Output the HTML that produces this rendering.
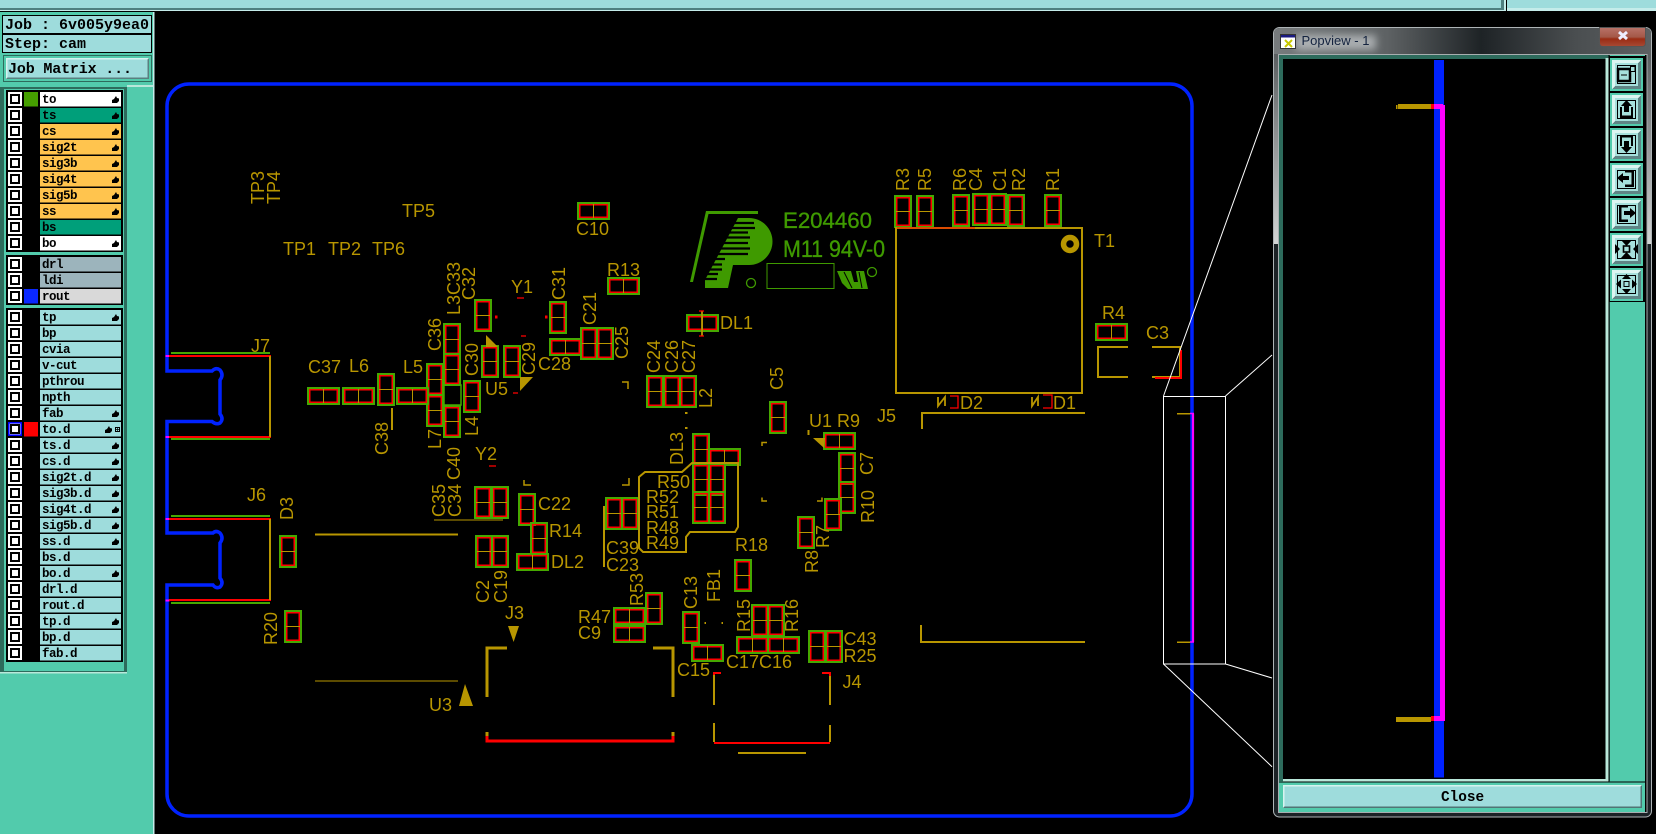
<!DOCTYPE html>
<html><head><meta charset="utf-8"><title>Popview</title>
<style>
html,body{margin:0;padding:0;background:#000;width:1656px;height:834px;overflow:hidden}
svg{display:block;position:absolute;left:0;top:0}
.s{font:18px "Liberation Sans",sans-serif;fill:#b89600}
.n{font:bold 12.5px "Liberation Mono",monospace;fill:#000;letter-spacing:-.5px}
.u{font:bold 15px "Liberation Mono",monospace;fill:#000}
.o{fill:none;stroke:#b89600;stroke-width:2;shape-rendering:crispEdges}
.t{fill:none;stroke:#b89600;stroke-width:1.3}
.r{fill:none;stroke:#f00;stroke-width:3;shape-rendering:crispEdges}
.w{fill:none;stroke:#fff;stroke-width:1}
.d{fill:#b89600}
.lg{fill:#3f9a00;stroke:#3f9a00;stroke-width:.35;font-family:"Liberation Sans",sans-serif}
</style></head><body>
<svg width="1656" height="834" viewBox="0 0 1656 834" xmlns="http://www.w3.org/2000/svg">
<defs>
<g id="v"><rect x="1" y="1" width="16" height="31" fill="none" stroke="#46a800" stroke-width="2" shape-rendering="crispEdges"/><rect x="2.750" y="2.750" width="12.500" height="27.500" fill="none" stroke="#f00" stroke-width="1.500"/><path d="M2 16.500H16" stroke="#b89600" stroke-width="1" shape-rendering="crispEdges"/></g>
<g id="h"><rect x="1" y="1" width="31" height="16" fill="none" stroke="#46a800" stroke-width="2" shape-rendering="crispEdges"/><rect x="2.750" y="2.750" width="27.500" height="12.500" fill="none" stroke="#f00" stroke-width="1.500"/><path d="M16.500 2V16" stroke="#b89600" stroke-width="1" shape-rendering="crispEdges"/></g>
<g id="c" shape-rendering="crispEdges"><rect width="14" height="14" fill="#fff"/><rect x="3" y="3" width="8" height="8" fill="#fff" stroke="#000" stroke-width="2"/></g>
<path id="f" d="M0 7V4L2 3 4 0 5 2 7 2.5V5L5 7Z" fill="#000"/>
<g id="b" shape-rendering="crispEdges"><rect width="33" height="33" fill="#52cbac"/><rect x="2" y="2" width="29" height="29" fill="#a6e0dc"/><path d="M2 2H31L28 5H5V28L2 31Z" fill="#dcf5f1"/><path d="M31 2V31H2L5 28H28V5Z" fill="#5f8585"/><rect x="7.500" y="7.500" width="18" height="18" fill="none" stroke="#000" stroke-width="1"/></g>
<linearGradient id="tb" x1="0" x2="1" y1="0" y2="0"><stop offset="0" stop-color="#777b7d"/><stop offset=".3" stop-color="#5e6264"/><stop offset=".55" stop-color="#1e2326"/><stop offset=".8" stop-color="#4a4e50"/><stop offset="1" stop-color="#5c6062"/></linearGradient>
<linearGradient id="sd" x1="0" x2="0" y1="0" y2="1"><stop offset="0" stop-color="#5a5e60"/><stop offset="1" stop-color="#d2d4d4"/></linearGradient>
<linearGradient id="cb" x1="0" x2="0" y1="0" y2="1"><stop offset="0" stop-color="#b87268"/><stop offset=".5" stop-color="#a45848"/><stop offset=".6" stop-color="#9a2c14"/><stop offset="1" stop-color="#a84a34"/></linearGradient>
<filter id="bl" x="-20%" y="-50%" width="140%" height="200%"><feGaussianBlur stdDeviation="4"/></filter>
</defs>
<rect width="1656" height="834" fill="#000"/>

<!-- top bars -->
<rect x="0" y="0" width="1501" height="8" fill="#9edcdc"/><rect x="0" y="8" width="1503" height="2" fill="#4f8080"/><rect x="0" y="10" width="1504" height="1" fill="#c5ecea"/>
<rect x="1501" y="0" width="3" height="10" fill="#4f8080"/><rect x="1504" y="0" width="2" height="11" fill="#c5ecea"/>
<rect x="1507" y="0" width="149" height="8" fill="#9edcdc"/><rect x="1507" y="8" width="149" height="3" fill="#c5ecea"/>

<!-- sidebar -->
<rect x="0" y="12" width="153" height="822" fill="#52cbac"/><rect x="153" y="12" width="1.5" height="822" fill="#c5ecea"/>
<rect x="2.5" y="15.5" width="149" height="18" fill="#9edcdc" stroke="#000"/>
<rect x="2.5" y="34.5" width="149" height="18" fill="#9edcdc" stroke="#000"/>
<text class="u" x="5" y="29">Job : 6v005y9ea0</text>
<text class="u" x="5" y="48">Step: cam</text>
<rect x="3" y="55" width="149" height="27" fill="#2d6b5c"/><rect x="4" y="56" width="147" height="25" fill="#52cbac"/>
<rect x="6" y="58" width="143" height="21" fill="#9edcdc"/><path d="M6 58H149L148 59.5H7.5V77.5L6 79Z" fill="#d6f3ef"/><path d="M149 58V79H6L7.5 77.5H147.5V59.5Z" fill="#5a7f7f"/>
<text class="u" x="8" y="73" textLength="124">Job Matrix ...</text>
<rect x="0" y="87" width="127" height="585" fill="#2d6b5c"/><rect x="4" y="89" width="120" height="582" fill="#52cbac"/><rect x="127" y="85" width="26" height="2" fill="#b9e8da"/>
<rect x="0" y="672" width="127" height="1.5" fill="#b9e8da"/>
<rect x="6" y="90" width="117" height="162" fill="#000"/><rect x="6" y="255" width="117" height="50" fill="#000"/><rect x="6" y="308" width="117" height="354" fill="#000"/>
<rect x="24" y="92" width="14" height="14.5" fill="#459f00"/><rect x="24" y="289" width="14" height="14.5" fill="#0a28ff"/><rect x="24" y="422" width="14" height="14.5" fill="#f00"/>

<g id="rows">
<use href="#c" x="8" y="92"/><rect x="40" y="92" width="81" height="14.5" fill="#fff"/><text class="n" x="42" y="103">to</text><use href="#f" x="112" y="96"/>
<use href="#c" x="8" y="108"/><rect x="40" y="108" width="81" height="14.5" fill="#009f7a"/><text class="n" x="42" y="119">ts</text><use href="#f" x="112" y="112"/>
<use href="#c" x="8" y="124"/><rect x="40" y="124" width="81" height="14.5" fill="#ffc44e"/><text class="n" x="42" y="135">cs</text><use href="#f" x="112" y="128"/>
<use href="#c" x="8" y="140"/><rect x="40" y="140" width="81" height="14.5" fill="#ffc44e"/><text class="n" x="42" y="151">sig2t</text><use href="#f" x="112" y="144"/>
<use href="#c" x="8" y="156"/><rect x="40" y="156" width="81" height="14.5" fill="#ffc44e"/><text class="n" x="42" y="167">sig3b</text><use href="#f" x="112" y="160"/>
<use href="#c" x="8" y="172"/><rect x="40" y="172" width="81" height="14.5" fill="#ffc44e"/><text class="n" x="42" y="183">sig4t</text><use href="#f" x="112" y="176"/>
<use href="#c" x="8" y="188"/><rect x="40" y="188" width="81" height="14.5" fill="#ffc44e"/><text class="n" x="42" y="199">sig5b</text><use href="#f" x="112" y="192"/>
<use href="#c" x="8" y="204"/><rect x="40" y="204" width="81" height="14.5" fill="#ffc44e"/><text class="n" x="42" y="215">ss</text><use href="#f" x="112" y="208"/>
<use href="#c" x="8" y="220"/><rect x="40" y="220" width="81" height="14.5" fill="#009f7a"/><text class="n" x="42" y="231">bs</text>
<use href="#c" x="8" y="236"/><rect x="40" y="236" width="81" height="14.5" fill="#fff"/><text class="n" x="42" y="247">bo</text><use href="#f" x="112" y="240"/>
<use href="#c" x="8" y="257"/><rect x="40" y="257" width="81" height="14.5" fill="#9cb4bc"/><text class="n" x="42" y="268">drl</text>
<use href="#c" x="8" y="273"/><rect x="40" y="273" width="81" height="14.5" fill="#9cb4bc"/><text class="n" x="42" y="284">ldi</text>
<use href="#c" x="8" y="289"/><rect x="40" y="289" width="81" height="14.5" fill="#d9d9d9"/><text class="n" x="42" y="300">rout</text>
<use href="#c" x="8" y="310"/><rect x="40" y="310" width="81" height="14.5" fill="#9edcdc"/><text class="n" x="42" y="321">tp</text><use href="#f" x="112" y="314"/>
<use href="#c" x="8" y="326"/><rect x="40" y="326" width="81" height="14.5" fill="#9edcdc"/><text class="n" x="42" y="337">bp</text>
<use href="#c" x="8" y="342"/><rect x="40" y="342" width="81" height="14.5" fill="#9edcdc"/><text class="n" x="42" y="353">cvia</text>
<use href="#c" x="8" y="358"/><rect x="40" y="358" width="81" height="14.5" fill="#9edcdc"/><text class="n" x="42" y="369">v-cut</text>
<use href="#c" x="8" y="374"/><rect x="40" y="374" width="81" height="14.5" fill="#9edcdc"/><text class="n" x="42" y="385">pthrou</text>
<use href="#c" x="8" y="390"/><rect x="40" y="390" width="81" height="14.5" fill="#9edcdc"/><text class="n" x="42" y="401">npth</text>
<use href="#c" x="8" y="406"/><rect x="40" y="406" width="81" height="14.5" fill="#9edcdc"/><text class="n" x="42" y="417">fab</text><use href="#f" x="112" y="410"/>
<use href="#c" x="8" y="422"/><rect x="8.8" y="422.8" width="12.4" height="12.4" fill="none" stroke="#00f" stroke-width="1.6"/><rect x="40" y="422" width="81" height="14.5" fill="#9edcdc"/><text class="n" x="42" y="433">to.d</text><use href="#f" x="105" y="426"/><rect x="115.5" y="427.5" width="4" height="4" fill="none" stroke="#000"/><path d="M117.5 427V432M115 429.5H120" stroke="#000" stroke-width=".7"/>
<use href="#c" x="8" y="438"/><rect x="40" y="438" width="81" height="14.5" fill="#9edcdc"/><text class="n" x="42" y="449">ts.d</text><use href="#f" x="112" y="442"/>
<use href="#c" x="8" y="454"/><rect x="40" y="454" width="81" height="14.5" fill="#9edcdc"/><text class="n" x="42" y="465">cs.d</text><use href="#f" x="112" y="458"/>
<use href="#c" x="8" y="470"/><rect x="40" y="470" width="81" height="14.5" fill="#9edcdc"/><text class="n" x="42" y="481">sig2t.d</text><use href="#f" x="112" y="474"/>
<use href="#c" x="8" y="486"/><rect x="40" y="486" width="81" height="14.5" fill="#9edcdc"/><text class="n" x="42" y="497">sig3b.d</text><use href="#f" x="112" y="490"/>
<use href="#c" x="8" y="502"/><rect x="40" y="502" width="81" height="14.5" fill="#9edcdc"/><text class="n" x="42" y="513">sig4t.d</text><use href="#f" x="112" y="506"/>
<use href="#c" x="8" y="518"/><rect x="40" y="518" width="81" height="14.5" fill="#9edcdc"/><text class="n" x="42" y="529">sig5b.d</text><use href="#f" x="112" y="522"/>
<use href="#c" x="8" y="534"/><rect x="40" y="534" width="81" height="14.5" fill="#9edcdc"/><text class="n" x="42" y="545">ss.d</text><use href="#f" x="112" y="538"/>
<use href="#c" x="8" y="550"/><rect x="40" y="550" width="81" height="14.5" fill="#9edcdc"/><text class="n" x="42" y="561">bs.d</text>
<use href="#c" x="8" y="566"/><rect x="40" y="566" width="81" height="14.5" fill="#9edcdc"/><text class="n" x="42" y="577">bo.d</text><use href="#f" x="112" y="570"/>
<use href="#c" x="8" y="582"/><rect x="40" y="582" width="81" height="14.5" fill="#9edcdc"/><text class="n" x="42" y="593">drl.d</text>
<use href="#c" x="8" y="598"/><rect x="40" y="598" width="81" height="14.5" fill="#9edcdc"/><text class="n" x="42" y="609">rout.d</text>
<use href="#c" x="8" y="614"/><rect x="40" y="614" width="81" height="14.5" fill="#9edcdc"/><text class="n" x="42" y="625">tp.d</text><use href="#f" x="112" y="618"/>
<use href="#c" x="8" y="630"/><rect x="40" y="630" width="81" height="14.5" fill="#9edcdc"/><text class="n" x="42" y="641">bp.d</text>
<use href="#c" x="8" y="646"/><rect x="40" y="646" width="81" height="14.5" fill="#9edcdc"/><text class="n" x="42" y="657">fab.d</text>
</g>

<!-- board outline -->
<path d="M189 84H1170A22 22 0 0 1 1192 106V794A22 22 0 0 1 1170 816H189A22 22 0 0 1 167 794V585H213Q216 589 220 587Q224 583 220 578V543Q224 538 220 533Q216 530 213 533H167V421.5H212Q216 425 220 423Q224 419 220 414V380Q224 375 220 370Q216 367 212 371H167V106A22 22 0 0 1 189 84Z" fill="none" stroke="#0022ff" stroke-width="3.5"/>
<rect x="165.5" y="355" width="4" height="2" fill="#f0f"/><rect x="165.5" y="436" width="4" height="2" fill="#f0f"/><rect x="165.5" y="518" width="4" height="2" fill="#f0f"/><rect x="165.5" y="599.5" width="4" height="2" fill="#f0f"/>

<!-- connectors J7 / J6 -->
<path d="M171 353H270M171 439H270M171 516H270M171 603H270" stroke="#46a800" stroke-width="2" fill="none" shape-rendering="crispEdges"/>
<path d="M169 356H271M169 437H271M169 519H271M169 600H271" stroke="#f00" stroke-width="2" fill="none" shape-rendering="crispEdges"/>
<path class="o" d="M270 356V437M270 519V600"/>

<!-- logo -->
<path d="M738 218H749A23.500 23.500 0 0 1 749 265H733L728 288H705V280Z" fill="#3f9a00"/>
<path d="M730 223H754M700 228H755M700 232.500H748M700 237.500H750M700 243H748M700 248.500H750M700 254H748M700 259H725M700 264.500H722M700 269.500H722M700 274H718M700 279H717" stroke="#000" stroke-width="2.200"/>
<path d="M706 211H758V214H708.500L693 282H690Z" fill="#3f9a00"/>
<rect x="767" y="263.500" width="67" height="25" fill="none" stroke="#3f9a00"/>
<circle cx="751" cy="283" r="4.500" fill="none" stroke="#3f9a00" stroke-width="1.300"/><circle cx="872" cy="272" r="4.500" fill="none" stroke="#3f9a00" stroke-width="1.300"/>
<path d="M837 271H851L854 282H858L856 271H864L868 289H848L842 283Z" fill="#3f9a00"/>
<path d="M844 272L852 288M859 272L862 288" stroke="#000" stroke-width="1"/>
<text class="lg" x="783" y="228" font-size="22" textLength="89" lengthAdjust="spacingAndGlyphs">E204460</text>
<text class="lg" x="783" y="257" font-size="24" textLength="102" lengthAdjust="spacingAndGlyphs">M11 94V-0</text>

<!-- components -->
<use href="#h" x="577" y="202"/><use href="#h" x="607" y="277"/><use href="#v" x="474" y="299"/><use href="#v" x="549" y="301"/><use href="#h" x="549" y="338"/>
<use href="#v" x="580" y="327"/><use href="#v" x="596" y="327"/><use href="#v" x="481" y="345"/><use href="#v" x="503" y="345"/>
<use href="#v" x="443" y="323"/><use href="#v" x="443" y="353"/><use href="#v" x="443" y="405"/><use href="#v" x="463" y="380"/>
<rect x="444" y="385" width="17" height="20" fill="none" stroke="#46a800" stroke-width="1.500"/>
<use href="#v" x="426" y="363"/><use href="#v" x="426" y="394"/>
<use href="#h" x="307" y="387"/><use href="#h" x="342" y="387"/><use href="#v" x="377" y="373"/><use href="#h" x="396" y="387"/>
<use href="#v" x="646" y="375"/><use href="#v" x="663" y="375"/><use href="#v" x="679" y="375"/>
<use href="#v" x="894" y="195"/><use href="#v" x="916" y="195"/><use href="#v" x="952" y="194"/><use href="#v" x="972" y="193"/><use href="#v" x="989" y="193"/><use href="#v" x="1007" y="194"/><use href="#v" x="1044" y="194"/>
<use href="#h" x="1095" y="323"/><use href="#h" x="686" y="314"/><use href="#v" x="769" y="401"/><use href="#h" x="823" y="432"/>
<use href="#v" x="692" y="433"/><use href="#h" x="708" y="448"/><use href="#v" x="692" y="463"/><use href="#v" x="708" y="463"/><use href="#v" x="692" y="491"/><use href="#v" x="708" y="491"/>
<use href="#v" x="838" y="452"/><use href="#v" x="838" y="481"/><use href="#v" x="824" y="498"/><use href="#v" x="797" y="516"/><use href="#v" x="734" y="559"/>
<use href="#v" x="474" y="486"/><use href="#v" x="491" y="486"/><use href="#v" x="475" y="535"/><use href="#v" x="491" y="535"/><use href="#v" x="518" y="493"/><use href="#v" x="530" y="522"/><use href="#h" x="516" y="553"/>
<use href="#v" x="605" y="497"/><use href="#v" x="621" y="497"/><use href="#v" x="279" y="535"/><use href="#v" x="284" y="610"/>
<use href="#h" x="613" y="607"/><use href="#h" x="613" y="625"/><use href="#v" x="645" y="592"/><use href="#v" x="682" y="611"/><use href="#h" x="691" y="644"/>
<use href="#v" x="751" y="604"/><use href="#v" x="767" y="604"/><use href="#h" x="736" y="636"/><use href="#h" x="767" y="636"/><use href="#v" x="808" y="630"/><use href="#v" x="825" y="630"/>

<!-- silk outlines -->
<rect x="896" y="228" width="186" height="165" class="o"/>
<path d="M897 228H975" stroke="#f00" stroke-width="1" shape-rendering="crispEdges"/>
<circle cx="1070" cy="244" r="6.500" fill="#000" stroke="#b89600" stroke-width="5.500"/>
<path class="t" style="stroke-width:2" d="M645 472H682L692 463H738V527L735 532H690L686 537V552H643L639 548V477Z"/>
<path class="o" d="M1128 347H1098V377H1128M1152 347H1180V377H1152"/>
<path class="r" style="stroke-width:2" d="M1181 350V378H1155"/>
<path class="o" d="M922 429V413H1085M921 625V642H1085"/>
<path class="t" style="stroke-width:1.800" d="M702 311V336"/>
<path d="M699 311H704M699 336H704" stroke="#f00" stroke-width="1.200"/>
<path class="o" style="stroke-width:3" d="M487 697V648H507M653 648H673V697"/>
<path class="o" style="stroke-width:3" d="M487 732V740M673 732V740"/>
<path class="r" d="M487 736V741H673V736"/>
<path class="o" d="M714 705V673M830 673V705M714 723V742M830 725V742"/>
<path d="M714 675V673H721M822 673H830V676M714 743H830" fill="none" stroke="#f00" stroke-width="2" shape-rendering="crispEdges"/>
<path class="o" d="M738 753H806"/>
<path class="o" style="stroke-width:1" d="M315 681H458M434 520H503"/>
<path class="o" d="M315 534.500H458"/>
<path class="o" d="M604 506V567M392 408V430"/>
<path d="M486 335L498 347H486ZM533 377H520V391ZM813 438H825L824 448ZM508 626H519L513.600 642ZM465 684L473 706H459Z" class="d"/>
<path d="M517 298H524M521 336H526M489 466H496M513 393H518" stroke="#f00" stroke-width="1.300"/>
<rect x="545" y="315.500" width="2.500" height="3" fill="#f00"/><rect x="495" y="315.500" width="2.500" height="3" fill="#f00"/>
<path d="M622 382H628V389M762 446V442.500H767M762 497.500V501H767M817 501H822V497.500M524 480V485H531M629 478V485H622" class="t" style="stroke-width:1.500"/>
<path d="M938 397V406L945 397V406M1032 397V406L1038 397V406" class="t" style="stroke-width:1.800"/>
<path d="M950 396H958V408H950M1043 395H1052V408H1043" fill="none" stroke="#f00" stroke-width="1.300"/>
<rect x="704.500" y="622" width="1.500" height="2" fill="#b89600"/><rect x="721.500" y="622" width="1.500" height="2" fill="#b89600"/><rect x="685" y="412" width="2.500" height="2" fill="#b89600"/><rect x="685" y="427" width="2.500" height="2" fill="#b89600"/><rect x="807.500" y="430" width="2" height="5" fill="#b89600"/>

<!-- labels -->
<g>
<text class="s" x="402" y="217">TP5</text><text class="s" x="283" y="255">TP1</text><text class="s" x="328" y="255">TP2</text><text class="s" x="372" y="255">TP6</text>
<text class="s" x="576" y="235">C10</text><text class="s" x="511" y="293">Y1</text><text class="s" x="607" y="276">R13</text><text class="s" x="538" y="370">C28</text>
<text class="s" x="308" y="373">C37</text><text class="s" x="349" y="372">L6</text><text class="s" x="403" y="373">L5</text><text class="s" x="485" y="395">U5</text>
<text class="s" x="251" y="352">J7</text><text class="s" x="475" y="460">Y2</text><text class="s" x="538" y="510">C22</text><text class="s" x="549" y="537">R14</text><text class="s" x="551" y="568">DL2</text>
<text class="s" x="657" y="488">R50</text><text class="s" x="646" y="503">R52</text><text class="s" x="646" y="518">R51</text><text class="s" x="646" y="534">R48</text><text class="s" x="646" y="549">R49</text>
<text class="s" x="606" y="554">C39</text><text class="s" x="606" y="571">C23</text><text class="s" x="247" y="501">J6</text><text class="s" x="505" y="619">J3</text>
<text class="s" x="578" y="623">R47</text><text class="s" x="578" y="639">C9</text><text class="s" x="429" y="711">U3</text><text class="s" x="677" y="676">C15</text><text class="s" x="735" y="551">R18</text>
<text class="s" x="809" y="427">U1</text><text class="s" x="837" y="427">R9</text><text class="s" x="877" y="422">J5</text><text class="s" x="960" y="409">D2</text><text class="s" x="1053" y="409">D1</text>
<text class="s" x="720" y="329">DL1</text><text class="s" x="1102" y="319">R4</text><text class="s" x="1146" y="339">C3</text><text class="s" x="1094" y="247">T1</text>
<text class="s" x="843.500" y="645">C43</text><text class="s" x="843.500" y="662">R25</text><text class="s" x="842.500" y="688">J4</text><text class="s" x="726" y="668">C17</text><text class="s" x="759" y="668">C16</text>
<text class="s" transform="rotate(-90 264 204)" x="264" y="204">TP3</text>
<text class="s" transform="rotate(-90 280 204)" x="280" y="204">TP4</text>
<text class="s" transform="rotate(-90 460 315)" x="460" y="315">L3C33</text>
<text class="s" transform="rotate(-90 475 300)" x="475" y="300">C32</text>
<text class="s" transform="rotate(-90 565 300)" x="565" y="300">C31</text>
<text class="s" transform="rotate(-90 596 325)" x="596" y="325">C21</text>
<text class="s" transform="rotate(-90 441 351)" x="441" y="351">C36</text>
<text class="s" transform="rotate(-90 478 376)" x="478" y="376">C30</text>
<text class="s" transform="rotate(-90 535 375)" x="535" y="375">C29</text>
<text class="s" transform="rotate(-90 628 359)" x="628" y="359">C25</text>
<text class="s" transform="rotate(-90 660 373)" x="660" y="373">C24</text>
<text class="s" transform="rotate(-90 678 373)" x="678" y="373">C26</text>
<text class="s" transform="rotate(-90 695 373)" x="695" y="373">C27</text>
<text class="s" transform="rotate(-90 388 455)" x="388" y="455">C38</text>
<text class="s" transform="rotate(-90 441 449)" x="441" y="449">L7</text>
<text class="s" transform="rotate(-90 478 436)" x="478" y="436">L4</text>
<text class="s" transform="rotate(-90 460 480)" x="460" y="480">C40</text>
<text class="s" transform="rotate(-90 445 517)" x="445" y="517">C35</text>
<text class="s" transform="rotate(-90 461 517)" x="461" y="517">C34</text>
<text class="s" transform="rotate(-90 643 606)" x="643" y="606">R53</text>
<text class="s" transform="rotate(-90 293 520)" x="293" y="520">D3</text>
<text class="s" transform="rotate(-90 277 645)" x="277" y="645">R20</text>
<text class="s" transform="rotate(-90 489 603)" x="489" y="603">C2</text>
<text class="s" transform="rotate(-90 507 603)" x="507" y="603">C19</text>
<text class="s" transform="rotate(-90 697 609)" x="697" y="609">C13</text>
<text class="s" transform="rotate(-90 720 602)" x="720" y="602">FB1</text>
<text class="s" transform="rotate(-90 829 548)" x="829" y="548">R7</text>
<text class="s" transform="rotate(-90 818 573)" x="818" y="573">R8</text>
<text class="s" transform="rotate(-90 874 523)" x="874" y="523">R10</text>
<text class="s" transform="rotate(-90 873 475)" x="873" y="475">C7</text>
<text class="s" transform="rotate(-90 783 390)" x="783" y="390">C5</text>
<text class="s" transform="rotate(-90 712 408)" x="712" y="408">L2</text>
<text class="s" transform="rotate(-90 683 465)" x="683" y="465">DL3</text>
<text class="s" transform="rotate(-90 909 191)" x="909" y="191">R3</text>
<text class="s" transform="rotate(-90 931 191)" x="931" y="191">R5</text>
<text class="s" transform="rotate(-90 966 191)" x="966" y="191">R6</text>
<text class="s" transform="rotate(-90 982 191)" x="982" y="191">C4</text>
<text class="s" transform="rotate(-90 1006 191)" x="1006" y="191">C1</text>
<text class="s" transform="rotate(-90 1025 191)" x="1025" y="191">R2</text>
<text class="s" transform="rotate(-90 1059 191)" x="1059" y="191">R1</text>
<text class="s" transform="rotate(-90 750 632)" x="750" y="632">R15</text>
<text class="s" transform="rotate(-90 798 632)" x="798" y="632">R16</text>
</g>

<!-- zoom rect -->
<path d="M1177 413.500H1190M1177 642H1190" class="o" style="stroke-width:1.500"/>
<path d="M1193 413.500V642" stroke="#f0f" stroke-width="2.200"/><path d="M1190 413.500H1194M1190 642H1194" stroke="#f0f" stroke-width="1.500"/>
<rect x="1163.500" y="396.500" width="62" height="267.500" class="w"/>
<path class="w" d="M1163.500 396L1272 95M1225.500 396L1272 355M1225.500 664L1272 678M1163.500 664L1272 766.700"/>

<!-- popup window -->
<rect x="1273.500" y="27.500" width="378" height="789.500" rx="6" fill="#1c2226" stroke="#aeb4b6"/>
<rect x="1274" y="54" width="377" height="190" fill="url(#sd)"/>
<path d="M1274 54V33Q1274 28 1280 28H1645Q1651 28 1651 33V54Z" fill="url(#tb)"/>
<rect x="1296" y="35" width="80" height="15" fill="#cfd3d5" opacity=".65" filter="url(#bl)"/>
<rect x="1280.500" y="34.500" width="15" height="14" fill="#fff" stroke="#333"/><rect x="1281" y="35" width="14" height="2.500" fill="#1a1a80"/>
<path d="M1285 40L1292 47M1292 40L1285 47" stroke="#c8c800" stroke-width="2"/>
<text x="1301.500" y="45" font-family="Liberation Sans,sans-serif" font-size="13" fill="#14233f">Popview - 1</text>
<path d="M1599.500 27.500H1645.500V43Q1645.500 46.500 1642 46.500H1603Q1599.500 46.500 1599.500 43Z" fill="url(#cb)" stroke="#555"/>
<path d="M1619 32L1627 39M1627 32L1619 39" stroke="#eef" stroke-width="3"/>
<rect x="1278.500" y="54.500" width="368.500" height="758" fill="#52cbac" stroke="#a8aeb0"/>
<rect x="1279" y="55" width="331" height="726" fill="#2d6b5c"/>
<rect x="1283" y="59" width="322.500" height="720" fill="#000"/>
<rect x="1605.500" y="58" width="3" height="724" fill="#b9e8da"/><rect x="1283" y="779" width="325" height="3" fill="#b9e8da"/>
<rect x="1608.500" y="55" width="1" height="727" fill="#000"/>
<rect x="1609" y="56" width="37" height="246" fill="#000"/>
<rect x="1645" y="55" width="1.500" height="757" fill="#000"/>
<rect x="1279" y="781.500" width="367" height="1" fill="#000"/>

<!-- popup canvas -->
<rect x="1434" y="60" width="10" height="717.500" fill="#0022ff"/>
<rect x="1440" y="105" width="5" height="616" fill="#f0f"/>
<rect x="1396" y="105" width="1.500" height="4" fill="#b89600"/><rect x="1398" y="104" width="33" height="5" fill="#b89600"/><rect x="1431" y="104" width="3" height="5" fill="#f00"/><rect x="1434" y="104" width="9" height="5" fill="#f0f"/>
<rect x="1396" y="717" width="35" height="5" fill="#b89600"/><rect x="1431" y="716" width="3" height="5" fill="#f00"/><rect x="1434" y="716" width="11" height="5" fill="#f0f"/>

<!-- toolbar -->
<use href="#b" x="1610" y="58"/><use href="#b" x="1610" y="93"/><use href="#b" x="1610" y="128"/><use href="#b" x="1610" y="163"/><use href="#b" x="1610" y="198"/><use href="#b" x="1610" y="233"/><use href="#b" x="1610" y="268"/>
<g fill="#000">
<path d="M1618 69H1630V81H1618Z" fill="none" stroke="#000" stroke-width="2.500"/><rect x="1630.500" y="66.500" width="4.500" height="5" fill="#a6e0dc" stroke="#000"/><path d="M1621 75H1627" stroke="#000"/>
<path d="M1626.500 100L1632 106H1629V112H1624V106H1621Z"/><path d="M1620 107V118H1633V107H1631V115.500H1622V107Z"/>
<path d="M1626.500 153L1632 147H1629V141H1624V147H1621Z"/><path d="M1620 146V135H1633V146H1631V137.500H1622V146Z"/>
<path d="M1617 178L1623 173V176H1629V180H1623V183Z"/><path d="M1625 170H1634V187H1625V184.500H1631.500V172.500H1625Z"/>
<path d="M1636 213L1630 208V211H1624V215H1630V218Z"/><path d="M1628 205H1619V222H1628V219.500H1621.500V207.500H1628Z"/>
<path d="M1626.500 246L1621 240H1632ZM1626.500 252L1621 258H1632ZM1620 249L1615 244V254ZM1633 249L1638 244V254Z"/><rect x="1623.500" y="246" width="6" height="6" fill="#a6e0dc" stroke="#000" stroke-width="1.600"/>
<path d="M1626.500 274L1622 279H1631ZM1626.500 294L1622 289H1631ZM1616 284L1621 279.500V288.500ZM1637 284L1632 279.500V288.500Z"/><rect x="1624" y="281.500" width="5" height="5" fill="#a6e0dc" stroke="#000"/>
</g>

<!-- close button -->
<rect x="1283" y="785" width="359" height="23" fill="#9edcdc"/><path d="M1283 785H1642L1640.500 786.500H1284.500V806.500L1283 808Z" fill="#d6f3ef"/><path d="M1642 785V808H1283L1284.500 806.500H1640.500V786.500Z" fill="#4f7575"/>
<text class="u" x="1441" y="801" style="font-size:14.400px">Close</text>
</svg>
</body></html>
